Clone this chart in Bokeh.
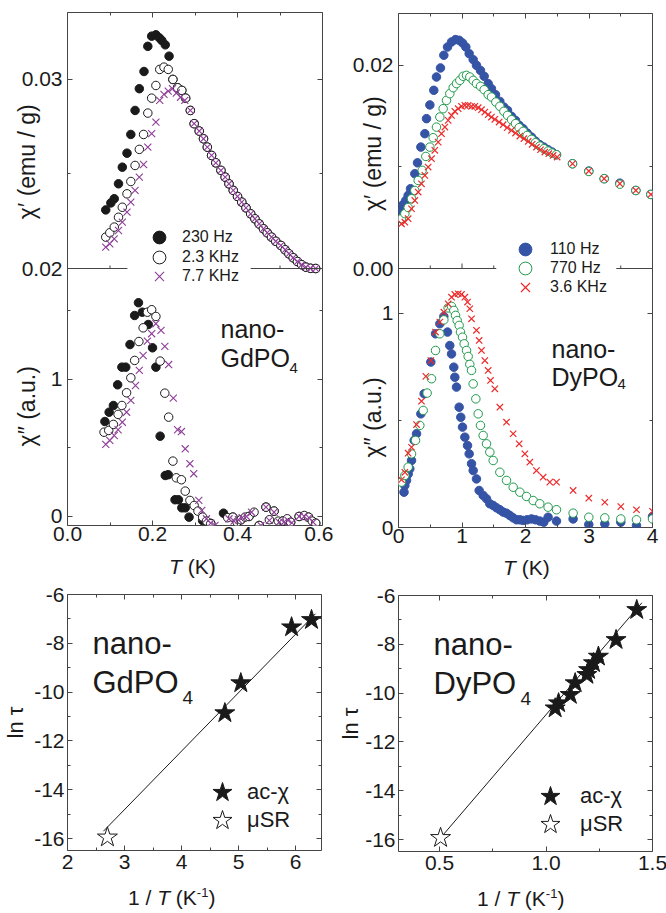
import math

from bokeh.embed import file_html
from bokeh.layouts import column, row
from bokeh.models import (BoxAnnotation, CustomJSTickFormatter, Div, FixedTicker, Label,
                          Legend, LegendItem, LinearAxis, PrintfTickFormatter,
                          Range1d, Span)
from bokeh.plotting import figure
from bokeh.resources import INLINE

FONT = "Liberation Sans"
INK = "#1a1a1a"
FRAME = "#454545"
PURPLE = "#8e3d98"
BLUE = "#3654a6"
GREEN = "#1e9a4a"
RED = "#ec2b2b"
NB = "\u00a0"

# ---------------------------------------------------------------- nano-GdPO4
# chi' (emu/g): the three frequencies share the same curve above ~0.29 K
gd_tail_T = [0.289, 0.298, 0.310, 0.320, 0.329, 0.339, 0.349, 0.361, 0.371, 0.380,
             0.390, 0.400, 0.410, 0.420, 0.431, 0.441, 0.451, 0.461, 0.470, 0.480,
             0.490, 0.502, 0.512, 0.521, 0.531, 0.541, 0.551, 0.561, 0.572, 0.584]
gd_tail_chi1 = [0.02836, 0.02766, 0.02727, 0.02686, 0.02642, 0.02598, 0.02559, 0.02519,
                0.02483, 0.02448, 0.02413, 0.02381, 0.02351, 0.02321, 0.02289, 0.02263,
                0.02236, 0.02210, 0.02189, 0.02166, 0.02144, 0.02122, 0.02099, 0.02078,
                0.02057, 0.02037, 0.02020, 0.02007, 0.02001, 0.02000]

gd_chi1_230_T = [0.090, 0.102, 0.110, 0.120, 0.129, 0.140, 0.149, 0.159, 0.169, 0.180,
                 0.189, 0.198, 0.208, 0.216, 0.222, 0.230, 0.239, 0.248, 0.259, 0.269,
                 0.278] + gd_tail_T
gd_chi1_230 = [0.02310, 0.02347, 0.02369, 0.02448, 0.02536, 0.02610, 0.02709, 0.02836,
               0.02951, 0.03042, 0.03175, 0.03229, 0.03236, 0.03220, 0.03206, 0.03183,
               0.03123, 0.03000, 0.02956, 0.02942, 0.02901] + gd_tail_chi1

gd_chi1_2k3_T = [0.090, 0.0995, 0.110, 0.120, 0.129, 0.140, 0.149, 0.159, 0.169, 0.179,
                 0.189, 0.198, 0.208, 0.217, 0.227, 0.237, 0.248, 0.259, 0.269,
                 0.278] + gd_tail_T
gd_chi1_2k3 = [0.02166, 0.02189, 0.02219, 0.02271, 0.02324, 0.02395, 0.02460, 0.02545,
               0.02630, 0.02709, 0.02822, 0.02901, 0.02968, 0.03053, 0.03065, 0.03053,
               0.03000, 0.02956, 0.02942, 0.02901] + gd_tail_chi1

gd_chi1_7k7_T = [0.090, 0.0995, 0.110, 0.120, 0.129, 0.140, 0.149, 0.159, 0.169, 0.179,
                 0.189, 0.198, 0.208, 0.217, 0.227, 0.237, 0.247, 0.256, 0.266,
                 0.276] + gd_tail_T
gd_chi1_7k7 = [0.02113, 0.02131, 0.02157, 0.02201, 0.02245, 0.02298, 0.02351, 0.02413,
               0.02483, 0.02550, 0.02642, 0.02713, 0.02774, 0.02889, 0.02921, 0.02938,
               0.02951, 0.02928, 0.02906, 0.02889] + gd_tail_chi1

# chi'' (a.u.)
gd_chi2_230_T = [0.088, 0.098, 0.108, 0.118, 0.128, 0.137, 0.147, 0.158, 0.167, 0.176,
                 0.190, 0.200, 0.208, 0.218, 0.230, 0.237, 0.253, 0.261, 0.269, 0.277,
                 0.286, 0.318, 0.337, 0.367, 0.389, 0.408, 0.427, 0.451, 0.467, 0.486,
                 0.506, 0.525, 0.545, 0.567, 0.584]
gd_chi2_230 = [0.693, 0.761, 0.810, 0.961, 1.090, 1.090, 1.255, 1.467, 1.560, 1.491,
               1.401, 1.231, 1.090, 0.586, 0.299, 0.305, 0.122, 0.122, 0.063, 0.063,
               -0.005, -0.030, -0.050, 0.024, -0.005, -0.024, 0.000, -0.066, 0.068, 0.039,
               -0.034, -0.042, 0.000, -0.005, -0.049]

gd_chi2_2k3_T = [0.086, 0.097, 0.108, 0.119, 0.128, 0.139, 0.149, 0.158, 0.168, 0.178,
                 0.188, 0.198, 0.208, 0.218, 0.229, 0.238, 0.248, 0.256, 0.268, 0.277,
                 0.288, 0.298, 0.307, 0.318, 0.327, 0.337, 0.377, 0.389, 0.399, 0.408,
                 0.418, 0.427, 0.439, 0.451, 0.467, 0.475, 0.486, 0.496, 0.506, 0.517,
                 0.525, 0.545, 0.557, 0.567, 0.576, 0.584]
gd_chi2_2k3 = [0.615, 0.628, 0.672, 0.745, 0.810, 0.903, 1.012, 1.139, 1.277, 1.377,
               1.491, 1.509, 1.460, 1.134, 0.900, 0.725, 0.404, 0.282, 0.268, 0.185,
               0.117, 0.080, 0.039, -0.005, -0.034, -0.053, -0.009, -0.005, -0.042, -0.024,
               -0.005, 0.000, 0.031, -0.066, 0.068, -0.024, 0.039, -0.034, -0.034, -0.017,
               -0.042, 0.000, 0.007, -0.005, -0.034, -0.049]

gd_chi2_7k7_T = [0.090, 0.0995, 0.110, 0.119, 0.129, 0.139, 0.149, 0.160, 0.169, 0.178,
                 0.188, 0.198, 0.208, 0.220, 0.229, 0.238, 0.249, 0.259, 0.268, 0.277,
                 0.288, 0.297, 0.309, 0.316, 0.327, 0.337, 0.347, 0.380, 0.392, 0.402,
                 0.411, 0.421, 0.433, 0.455, 0.467, 0.475, 0.486, 0.498, 0.509, 0.519,
                 0.528, 0.545, 0.557, 0.568, 0.578]
gd_chi2_7k7 = [0.526, 0.555, 0.591, 0.633, 0.688, 0.761, 0.847, 0.956, 1.066, 1.175,
               1.280, 1.334, 1.407, 1.358, 1.241, 1.109, 0.864, 0.633, 0.620, 0.494,
               0.385, 0.312, 0.117, 0.044, -0.017, -0.049, -0.066, -0.017, -0.034, -0.024,
               -0.009, 0.000, 0.031, -0.066, 0.068, -0.029, 0.031, -0.042, -0.042, -0.029,
               -0.046, 0.000, 0.000, -0.009, -0.042]

# ---------------------------------------------------------------- nano-DyPO4
dy_chi1_110_T = [0.047, 0.073, 0.115, 0.152, 0.189, 0.257, 0.299, 0.352, 0.415, 0.441,
                 0.494, 0.556, 0.598, 0.661, 0.714, 0.772, 0.835, 0.898, 0.955, 1.008,
                 1.060, 1.113, 1.176, 1.228, 1.291, 1.349, 1.412, 1.464, 1.528, 1.596,
                 1.659, 1.717, 1.780, 1.843, 1.900, 1.963, 2.026, 2.094, 2.157, 2.225,
                 2.288, 2.356, 2.419, 2.488, 2.740, 2.997, 3.239, 3.486, 3.738, 3.974]
dy_chi1_110 = [0.00571, 0.0063, 0.0067, 0.0072, 0.00785, 0.00933, 0.0104, 0.01195, 0.01327,
               0.01475, 0.0161, 0.01754, 0.01885, 0.01974, 0.02099, 0.0218, 0.0223, 0.02253,
               0.02246, 0.0222, 0.0218, 0.02115, 0.02056, 0.0200, 0.0195, 0.01892, 0.0182,
               0.0177, 0.01711, 0.01645, 0.01589, 0.01557, 0.01498, 0.01458, 0.01409,
               0.01376, 0.01333, 0.01294, 0.01254, 0.01219, 0.01195, 0.01169, 0.01146,
               0.0112, 0.01031, 0.00959, 0.00884, 0.0084, 0.00768, 0.00729]

dy_chi1_770_T = [0.047, 0.100, 0.152, 0.205, 0.257, 0.310, 0.373, 0.430, 0.494, 0.546,
                 0.598, 0.651, 0.703, 0.756, 0.808, 0.861, 0.913, 0.966, 1.018, 1.071,
                 1.123, 1.176, 1.228, 1.291, 1.349, 1.412, 1.464, 1.533, 1.596, 1.659,
                 1.717, 1.780, 1.843, 1.900, 1.963, 2.026, 2.094, 2.157, 2.225, 2.288,
                 2.356, 2.419, 2.488, 2.740, 2.997, 3.239, 3.486, 3.738, 3.974]
dy_chi1_770 = [0.0049, 0.0054, 0.0060, 0.00687, 0.00768, 0.00867, 0.00966, 0.01103, 0.01195,
               0.01287, 0.01392, 0.01491, 0.01573, 0.01655, 0.01721, 0.0178, 0.0182, 0.01852,
               0.01892, 0.01901, 0.01885, 0.01852, 0.0182, 0.01793, 0.0176, 0.01711,
               0.01688, 0.01638, 0.01596, 0.01547, 0.01507, 0.01465, 0.01426, 0.01386,
               0.0135, 0.0131, 0.01271, 0.01238, 0.01205, 0.01179, 0.01156, 0.01136,
               0.0112, 0.01031, 0.00955, 0.00884, 0.0083, 0.00768, 0.00729]

dy_chi1_3k6_T = [0.047, 0.100, 0.152, 0.205, 0.257, 0.310, 0.362, 0.415, 0.467, 0.520,
                 0.572, 0.625, 0.677, 0.730, 0.782, 0.835, 0.887, 0.940, 0.992, 1.045,
                 1.097, 1.150, 1.202, 1.255, 1.307, 1.360, 1.412, 1.464, 1.517, 1.585,
                 1.648, 1.711, 1.780, 1.843, 1.911, 1.974, 2.042, 2.105, 2.173, 2.236,
                 2.304, 2.367, 2.435, 2.498, 2.740, 2.997, 3.239, 3.486, 3.738, 3.974]
dy_chi1_3k6 = [0.0044, 0.00456, 0.0049, 0.00588, 0.0067, 0.00752, 0.00834, 0.00916, 0.00998,
               0.01081, 0.01163, 0.01244, 0.01327, 0.01392, 0.01458, 0.01507, 0.01547,
               0.01573, 0.01596, 0.01606, 0.01606, 0.01596, 0.01596, 0.01583, 0.01563,
               0.0154, 0.01514, 0.01491, 0.01468, 0.01441, 0.01416, 0.01386, 0.0136,
               0.01333, 0.01304, 0.01278, 0.01251, 0.01222, 0.01195, 0.01169, 0.01146,
               0.0113, 0.01113, 0.01097, 0.01031, 0.00959, 0.00884, 0.00835, 0.00768,
               0.00729]

dy_chi2_110_T = [0.087, 0.100, 0.126, 0.152, 0.178, 0.205, 0.247, 0.284, 0.352, 0.404,
                 0.509, 0.583, 0.651, 0.714, 0.772, 0.808, 0.835, 0.871, 0.887, 0.913,
                 0.955, 0.981, 1.008, 1.045, 1.087, 1.113, 1.150, 1.176, 1.228, 1.270,
                 1.333, 1.386, 1.438, 1.491, 1.543, 1.596, 1.648, 1.701, 1.754, 1.806,
                 1.859, 1.911, 1.963, 2.026, 2.094, 2.157, 2.225, 2.288, 2.356, 2.488,
                 2.750, 2.997, 3.249, 3.501, 3.748, 4.000]
dy_chi2_110 = [0.165, 0.196, 0.220, 0.250, 0.274, 0.313, 0.407, 0.438, 0.531, 0.625,
               0.773, 0.905, 0.952, 0.986, 0.913, 0.850, 0.811, 0.749, 0.702, 0.656,
               0.562, 0.515, 0.469, 0.422, 0.383, 0.344, 0.298, 0.266, 0.227, 0.173,
               0.150, 0.134, 0.111, 0.103, 0.092, 0.083, 0.072, 0.067, 0.056, 0.045,
               0.036, 0.036, 0.033, 0.036, 0.040, 0.036, 0.030, 0.025, 0.048, 0.030,
               0.040, 0.014, 0.017, 0.025, 0.009, 0.051]

dy_chi2_770_T = [0.047, 0.100, 0.152, 0.205, 0.268, 0.336, 0.389, 0.451, 0.520, 0.583,
                 0.651, 0.714, 0.782, 0.835, 0.871, 0.898, 0.924, 0.955, 0.976, 1.008,
                 1.034, 1.071, 1.097, 1.123, 1.150, 1.176, 1.218, 1.255, 1.291, 1.333,
                 1.386, 1.438, 1.491, 1.596, 1.701, 1.806, 1.911, 2.016, 2.121, 2.225,
                 2.356, 2.488, 2.750, 2.997, 3.249, 3.501, 3.748, 4.000]
dy_chi2_770 = [0.212, 0.243, 0.282, 0.344, 0.407, 0.477, 0.547, 0.628, 0.695, 0.827,
               0.905, 0.970, 1.026, 1.033, 1.014, 0.991, 0.967, 0.944, 0.913, 0.889,
               0.858, 0.827, 0.799, 0.762, 0.734, 0.671, 0.601, 0.531, 0.477, 0.430,
               0.391, 0.352, 0.313, 0.258, 0.220, 0.188, 0.165, 0.145, 0.126, 0.111,
               0.095, 0.083, 0.067, 0.048, 0.045, 0.040, 0.036, 0.040]

dy_chi2_3k6_T = [0.047, 0.100, 0.152, 0.205, 0.284, 0.362, 0.430, 0.509, 0.583, 0.651,
                 0.714, 0.782, 0.835, 0.887, 0.940, 0.992, 1.045, 1.087, 1.123, 1.150,
                 1.228, 1.270, 1.307, 1.360, 1.412, 1.449, 1.517, 1.596, 1.701, 1.806,
                 1.900, 1.990, 2.068, 2.173, 2.278, 2.383, 2.488, 2.750, 2.997, 3.249,
                 3.501, 3.748, 4.000]
dy_chi2_3k6 = [0.223, 0.258, 0.347, 0.375, 0.481, 0.590, 0.706, 0.780, 0.913, 0.960,
               1.006, 1.045, 1.076, 1.089, 1.092, 1.089, 1.076, 1.053, 1.022, 0.975,
               0.921, 0.874, 0.827, 0.780, 0.734, 0.687, 0.648, 0.562, 0.492, 0.438,
               0.391, 0.344, 0.305, 0.266, 0.235, 0.212, 0.212, 0.173, 0.137, 0.118,
               0.098, 0.083, 0.076]

# ---------------------------------------------------------------- Arrhenius
gd_acchi_invT = [4.76, 5.04, 5.93, 6.28]
gd_acchi_lntau = [-10.86, -9.63, -7.34, -7.04]
gd_musr_invT = [2.70]
gd_musr_lntau = [-15.95]
gd_fit_invT = [2.63, 6.35]
gd_fit_lntau = [-15.70, -6.79]

dy_acchi_invT = [1.043, 1.059, 1.114, 1.137, 1.192, 1.200, 1.223, 1.246, 1.329, 1.426]
dy_acchi_lntau = [-10.62, -10.41, -10.07, -9.59, -9.25, -9.05, -8.77, -8.50, -7.82, -6.59]
dy_musr_invT = [0.505]
dy_musr_lntau = [-15.93]
dy_fit_invT = [0.505, 1.450]
dy_fit_lntau = [-15.93, -6.30]


# ---------------------------------------------------------------- helpers
BLANK = CustomJSTickFormatter(code="return ''")


def base_figure(frame_w, frame_h, borders, xr, yr):
    left, right, top, bottom = borders
    p = figure(frame_width=frame_w, frame_height=frame_h, x_range=xr, y_range=yr,
               min_border_left=left, min_border_right=right,
               min_border_top=top, min_border_bottom=bottom,
               output_backend="svg", toolbar_location=None,
               x_axis_location=None, y_axis_location=None)
    p.grid.visible = False
    p.outline_line_color = FRAME
    p.outline_line_width = 1
    p.background_fill_color = "white"
    p.border_fill_color = "white"
    return p


def tick_style(ax, show_labels, standoff):
    ax.axis_line_color = None
    ax.major_tick_in = 5
    ax.major_tick_out = 0
    ax.minor_tick_in = 3
    ax.minor_tick_out = 0
    ax.major_tick_line_color = FRAME
    ax.minor_tick_line_color = FRAME
    ax.axis_label_text_font = FONT
    ax.axis_label_text_font_style = "normal"
    ax.axis_label_text_color = INK
    if show_labels:
        ax.major_label_text_font = FONT
        ax.major_label_text_font_size = "21px"
        ax.major_label_text_color = INK
        ax.major_label_standoff = standoff
    else:
        ax.formatter = BLANK
        ax.major_label_text_font_size = "1px"
        ax.major_label_standoff = 0


def add_axes(p, xticker, xfmt, yticker, yfmt, y_stand, x_stand, ytitle, ytitle_size,
             ytitle_standoff):
    for place, labelled in (("below", True), ("above", False)):
        ax = LinearAxis(ticker=xticker, formatter=xfmt)
        tick_style(ax, labelled, x_stand)
        p.add_layout(ax, place)
    for place, labelled in (("left", True), ("right", False)):
        ax = LinearAxis(ticker=yticker, formatter=yfmt)
        tick_style(ax, labelled, y_stand)
        if labelled:
            ax.axis_label = ytitle
            ax.axis_label_text_font_size = f"{ytitle_size}px"
            ax.axis_label_standoff = ytitle_standoff
        p.add_layout(ax, place)


def put(p, origin, px, py, text, size, style="normal", align="left",
        baseline="alphabetic"):
    """Place a text label at page pixel (px, py); origin = frame (left, bottom) on the page."""
    fl, fb = origin
    p.add_layout(Label(x=px - fl, y=fb - py, x_units="screen", y_units="screen",
                       text=text, text_font=FONT, text_font_size=f"{size}px",
                       text_font_style=style, text_align=align,
                       text_baseline=baseline, text_color=INK))


def key_rows(p, origin, rows, marker_x, text_x, glyph, size):
    """One legend per row so that large keys can sit on a tight row pitch."""
    fl, fb = origin
    for renderer, label, row_y in rows:
        p.add_layout(Legend(
            items=[LegendItem(label=label, renderers=[renderer])],
            location=(marker_x - glyph / 2 - fl, fb - (row_y + glyph / 2)),
            glyph_width=glyph, glyph_height=glyph, spacing=0,
            label_standoff=int(round(text_x - marker_x - glyph / 2)),
            padding=0, margin=0, background_fill_alpha=0.0, border_line_color=None,
            label_text_font=FONT, label_text_font_size=f"{size}px",
            label_text_color=INK, label_height=size, label_text_baseline="middle"))


def stacked_panel(xlim, top_lim, bot_lim, h_top, h_bot, frame_w, borders,
                  xmajor, xminor, xfmt, top_major, top_labels, top_minor,
                  bot_major, bot_labels, bot_minor, ytitle, ytitle_standoff, gap):
    lo1, hi1 = top_lim
    lo2, hi2 = bot_lim
    y_main = Range1d(lo2, hi2 + (hi2 - lo2) * h_top / h_bot)
    y_top = Range1d(lo1 - (hi1 - lo1) * h_bot / h_top, hi1)

    def to_main(v):
        return y_main.start + (v - y_top.start) / (y_top.end - y_top.start) * (y_main.end - y_main.start)

    p = base_figure(frame_w, h_top + h_bot, borders, Range1d(*xlim), y_main)
    p.extra_y_ranges = {"top": y_top}

    pos = [to_main(v) for v in top_major] + list(bot_major)
    txt = list(top_labels) + list(bot_labels)
    yfmt = CustomJSTickFormatter(args=dict(pos=pos, txt=txt), code="""
        let k = 0, d = Infinity;
        for (let i = 0; i < pos.length; i++) {
            const e = Math.abs(pos[i] - tick);
            if (e < d) { d = e; k = i; }
        }
        return txt[k];
    """)
    yticker = FixedTicker(ticks=pos,
                          minor_ticks=[to_main(v) for v in top_minor] + list(bot_minor))
    xticker = FixedTicker(ticks=xmajor, minor_ticks=xminor)
    add_axes(p, xticker, PrintfTickFormatter(format=xfmt), yticker, yfmt, 5, 1,
             ytitle, 23, ytitle_standoff)

    # dividing line between the chi' and chi'' panels, with upward ticks
    per_px = (y_main.end - y_main.start) / (h_top + h_bot)
    p.add_layout(Span(location=hi2, dimension="width", line_color=FRAME, line_width=1))
    p.segment(x0=xmajor, y0=[hi2] * len(xmajor), x1=xmajor,
              y1=[hi2 + 5 * per_px] * len(xmajor), line_color=FRAME, line_width=1)
    p.segment(x0=xminor, y0=[hi2] * len(xminor), x1=xminor,
              y1=[hi2 + 3 * per_px] * len(xminor), line_color=FRAME, line_width=1)
    p.add_layout(BoxAnnotation(left=gap[0], right=gap[1], bottom=hi2 - 4 * per_px,
                               top=hi2 + 6 * per_px, fill_color="white", fill_alpha=1.0,
                               line_color=None))
    return p


def caption(html, height, left, top):
    """Axis title set as HTML text (italic symbol, superscript) below a panel."""
    style = (f"margin:{top}px 0 0 {left}px; font-family:'{FONT}', Arial, sans-serif; "
             f"font-size:21px; line-height:21px; white-space:nowrap; color:{INK};")
    return Div(text=f'<div style="{style}">{html}</div>', width=333, height=height,
               margin=0, styles={"overflow": "visible"})


# ---------------------------------------------------------------- GdPO4 ac-chi
gd_title = ("χ″ (a.u.)" + NB * 23 + "χ′ (emu / g)" + NB * 2)
gd = stacked_panel((0.0, 0.6), (0.02, 0.03354), (-0.066, 1.81), 256, 257, 255,
                   (65, 13, 12, 27),
                   [0.0, 0.2, 0.4, 0.6], [0.1, 0.3, 0.5], "%.1f",
                   [0.02, 0.03], ["0.02", "0.03"], [0.025],
                   [0.0, 1.0], ["0", "1"], [0.5, 1.5], gd_title, -21, (0.141, 0.431))
gd_o = (65, 525)

gd.scatter(gd_chi1_230_T, gd_chi1_230, marker="circle", size=8.5, fill_color=INK,
           line_color=INK, y_range_name="top")
gd.scatter(gd_chi1_2k3_T, gd_chi1_2k3, marker="circle", size=8.5, fill_color="white",
           line_color=INK, line_width=1, y_range_name="top")
gd.scatter(gd_chi1_7k7_T, gd_chi1_7k7, marker="x", size=10, line_color=PURPLE,
           line_width=1.1, y_range_name="top")
g230 = gd.scatter(gd_chi2_230_T, gd_chi2_230, marker="circle", size=8.5,
                  fill_color=INK, line_color=INK)
g2k3 = gd.scatter(gd_chi2_2k3_T, gd_chi2_2k3, marker="circle", size=8.5,
                  fill_color="white", line_color=INK, line_width=1)
g7k7 = gd.scatter(gd_chi2_7k7_T, gd_chi2_7k7, marker="x", size=10,
                  line_color=PURPLE, line_width=1.1)

key_rows(gd, gd_o, [(g230, "230 Hz", 237), (g2k3, "2.3 KHz", 257), (g7k7, "7.7 KHz", 276)],
         157, 180, 32, 16)
put(gd, gd_o, 218, 328, "nano-", 25)
put(gd, gd_o, 218, 357, "GdPO", 25)
put(gd, gd_o, 287, 367, "4", 15)

# ---------------------------------------------------------------- DyPO4 ac-chi
dy_title = ("χ″ (a.u.)" + NB * 26 + "χ′ (emu / g)" + NB * 2)
dy = stacked_panel((0.0, 4.0), (0.0, 0.0251), (0.0, 1.21), 255, 259, 254,
                   (62, 17, 13, 26),
                   [0, 1, 2, 3, 4], [0.5, 1.5, 2.5, 3.5], "%d",
                   [0.0, 0.02], ["0.00", "0.02"], [0.01],
                   [0.0, 1.0], ["0", "1"], [0.5], dy_title, -36, (1.54, 3.43))
dy_o = (395, 527)

dy.scatter(dy_chi1_110_T, dy_chi1_110, marker="circle", size=8.5, fill_color=BLUE,
           line_color=BLUE, y_range_name="top")
dy.scatter(dy_chi1_770_T, dy_chi1_770, marker="circle", size=8.5, fill_color="white",
           line_color=GREEN, line_width=1, y_range_name="top")
dy.scatter(dy_chi1_3k6_T, dy_chi1_3k6, marker="x", size=9, line_color=RED,
           line_width=1.2, y_range_name="top")
d110 = dy.scatter(dy_chi2_110_T, dy_chi2_110, marker="circle", size=8.5,
                  fill_color=BLUE, line_color=BLUE)
d770 = dy.scatter(dy_chi2_770_T, dy_chi2_770, marker="circle", size=8.5,
                  fill_color="white", line_color=GREEN, line_width=1)
d3k6 = dy.scatter(dy_chi2_3k6_T, dy_chi2_3k6, marker="x", size=9,
                  line_color=RED, line_width=1.2)

key_rows(dy, dy_o, [(d110, "110 Hz", 249), (d770, "770 Hz", 268), (d3k6, "3.6 KHz", 287)],
         522, 547, 32, 16)
put(dy, dy_o, 548, 348, "nano-", 25)
put(dy, dy_o, 548, 376, "DyPO", 25)
put(dy, dy_o, 614, 383, "4", 15)


# ---------------------------------------------------------------- Arrhenius plots
def arrhenius(xlim, borders, xmajor, xminor, xfmt, inv_T, ln_tau, mu_T, mu_tau,
              fit_x, fit_y, title_standoff):
    p = base_figure(254, 256, borders, Range1d(*xlim), Range1d(-16.49, -6.0))
    add_axes(p, FixedTicker(ticks=xmajor, minor_ticks=xminor), PrintfTickFormatter(format=xfmt),
             FixedTicker(ticks=[-6, -8, -10, -12, -14, -16], minor_ticks=[-7, -9, -11, -13, -15]),
             PrintfTickFormatter(format="%d"), 3, 4, "ln τ", 22, title_standoff)
    p.line(fit_x, fit_y, line_color=INK, line_width=1)
    ac = p.scatter(inv_T, ln_tau, marker="star", size=21, fill_color=INK, line_color=INK)
    mu = p.scatter(mu_T, mu_tau, marker="star", size=21, fill_color="white",
                   line_color=INK, line_width=1)
    return p, ac, mu


gd_b, gd_ac, gd_mu = arrhenius((2.0, 6.455), (65, 14, 14, 30), [2, 3, 4, 5, 6],
                               [2.5, 3.5, 4.5, 5.5], "%d", gd_acchi_invT, gd_acchi_lntau,
                               gd_musr_invT, gd_musr_lntau, gd_fit_invT, gd_fit_lntau, 3)
gdb_o = (65, 850)
key_rows(gd_b, gdb_o, [(gd_ac, "ac-χ", 792), (gd_mu, "μSR", 820)], 220, 245, 50, 22)
put(gd_b, gdb_o, 90, 643, "nano-", 31)
put(gd_b, gdb_o, 90, 682, "GdPO", 31)
put(gd_b, gdb_o, 180, 697, "4", 19)

dy_b, dy_ac, dy_mu = arrhenius((0.3075, 1.5), (62, 17, 14, 30), [0.5, 1.0, 1.5],
                               [0.75, 1.25], "%.1f", dy_acchi_invT, dy_acchi_lntau,
                               dy_musr_invT, dy_musr_lntau, dy_fit_invT, dy_fit_lntau, -1)
dyb_o = (395, 850)
key_rows(dy_b, dyb_o, [(dy_ac, "ac-χ", 795), (dy_mu, "μSR", 823)], 547, 577, 50, 22)
put(dy_b, dyb_o, 430, 643, "nano-", 31)
put(dy_b, dyb_o, 430, 682, "DyPO", 31)
put(dy_b, dyb_o, 517, 697, "4", 19)

# ---------------------------------------------------------------- x-axis titles
T_K = "<i>T</i> (K)"
INV_T = ("1 / <i>T</i> (K<span style=\"font-size:13px; position:relative; top:-8px;\">"
         "-1</span>)")
t_gd = caption(T_K, 28, 169, 4)       # page rows 552..580
t_dy = caption(T_K, 28, 168, 4)
b_gd = caption(INV_T, 33, 128, 7)     # page rows 880..913
b_dy = caption(INV_T, 33, 142, 7)

page = row(column(gd, t_gd, gd_b, b_gd, spacing=0),
           column(dy, t_dy, dy_b, b_dy, spacing=0), spacing=0)
open("out.html", "w").write(file_html(page, INLINE))
